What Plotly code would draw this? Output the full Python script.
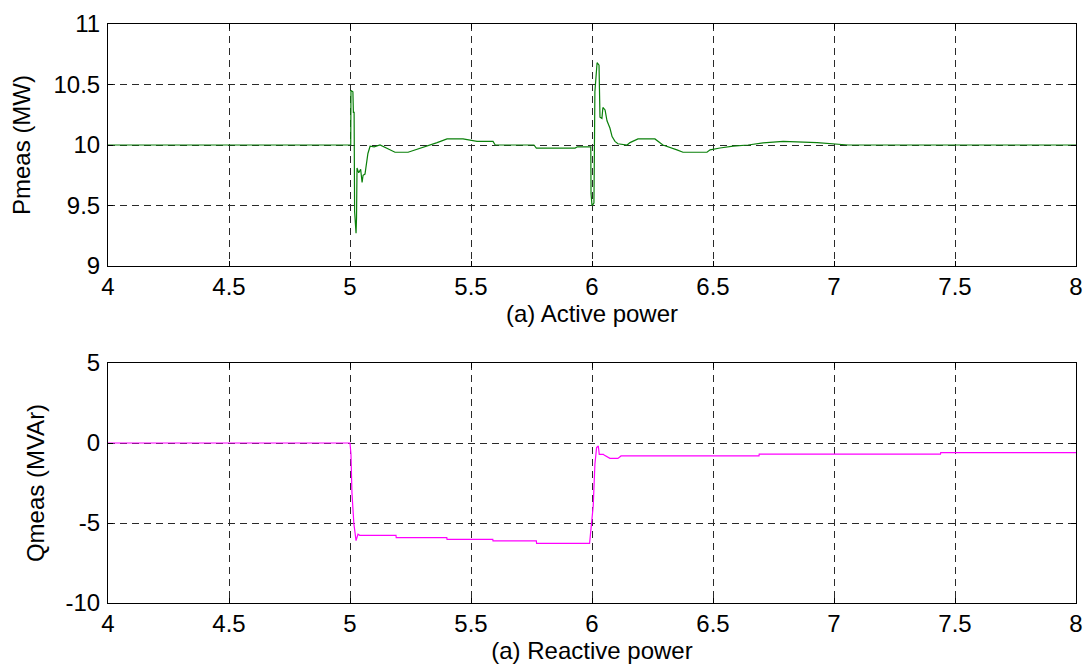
import plotly.graph_objects as go

# Active power (MW) at the measurement bus
p_time = [4.0, 5.003, 5.004, 5.012, 5.014, 5.017, 5.019, 5.022, 5.025, 5.027,
          5.029, 5.036, 5.044, 5.050, 5.054, 5.062, 5.070, 5.074, 5.083, 5.100,
          5.124, 5.186, 5.240, 5.318, 5.360, 5.401, 5.467, 5.525, 5.591, 5.600,
          5.760, 5.770, 5.930, 5.940, 5.995, 5.996, 6.000, 6.008, 6.012, 6.021,
          6.029, 6.033, 6.041, 6.045, 6.054, 6.062, 6.074, 6.083, 6.095, 6.107,
          6.145, 6.157, 6.190, 6.260, 6.293, 6.351, 6.376, 6.475, 6.488, 6.529,
          6.583, 6.645, 6.707, 6.790, 6.930, 7.058, 8.0]
p_meas = [10.0, 10.0, 10.45, 10.44, 10.27, 10.27, 9.45, 9.38, 9.27, 9.40,
          9.81, 9.77, 9.80, 9.69, 9.75, 9.76, 9.88, 9.93, 9.99, 9.985,
          10.0, 9.94, 9.94, 9.99, 10.02, 10.05, 10.05, 10.03, 10.03, 10.0,
          10.0, 9.975, 9.975, 9.985, 9.985, 9.60, 9.50, 9.52, 10.44, 10.68,
          10.66, 10.23, 10.22, 10.31, 10.29, 10.20, 10.14, 10.07, 10.03, 10.01,
          10.0, 10.02, 10.05, 10.05, 10.0, 9.96, 9.94, 9.94, 9.96, 9.975,
          9.99, 10.0, 10.017, 10.03, 10.02, 10.0, 10.0]

# Reactive power (MVAr) at the measurement bus
q_time = [4.0, 5.0, 5.004, 5.008, 5.016, 5.025, 5.033, 5.040, 5.190, 5.191,
          5.400, 5.401, 5.590, 5.591, 5.770, 5.771, 5.990, 6.005, 6.012, 6.019,
          6.026, 6.030, 6.047, 6.050, 6.074, 6.107, 6.120, 6.690, 6.691, 7.440,
          7.441, 8.0]
q_meas = [0.0, 0.0, -0.7, -3.1, -5.05, -6.1, -5.7, -5.77, -5.77, -5.92,
          -5.92, -6.02, -6.02, -6.12, -6.12, -6.27, -6.27, -3.94, -1.33, -0.29,
          -0.19, -0.71, -0.71, -0.75, -0.96, -0.96, -0.81, -0.81, -0.70, -0.70,
          -0.60, -0.60]

x_ticks = [4, 4.5, 5, 5.5, 6, 6.5, 7, 7.5, 8]
p_ticks = [9, 9.5, 10, 10.5, 11]
q_ticks = [-10, -5, 0, 5]

FONT = "Arial, Liberation Sans, sans-serif"
FS = 24
W, H = 1091, 668

fig = go.Figure()
fig.add_trace(go.Scatter(x=p_time, y=p_meas, mode="lines",
                         line=dict(color="#0a800a", width=1.2),
                         xaxis="x", yaxis="y", showlegend=False))
fig.add_trace(go.Scatter(x=q_time, y=q_meas, mode="lines",
                         line=dict(color="#ff00ff", width=1.2),
                         xaxis="x2", yaxis="y2", showlegend=False))

common_axis = dict(
    showline=True, linecolor="black", linewidth=1, mirror="ticks",
    ticks="inside", ticklen=5, tickcolor="black",
    showgrid=True, gridcolor="#2a2a2a", gridwidth=1, griddash="7px,5px",
    zeroline=False, automargin=False,
    tickfont=dict(family=FONT, size=FS, color="black"),
)

x_dom = [108 / W, 1076 / W]
top_dom = [(H - 266) / H, (H - 24) / H]
bot_dom = [(H - 603) / H, (H - 363) / H]

fig.update_layout(
    width=W, height=H,
    margin=dict(l=0, r=0, t=0, b=0, autoexpand=False),
    paper_bgcolor="white", plot_bgcolor="white",
    font=dict(family=FONT, size=FS, color="black"),
    xaxis=dict(domain=x_dom, anchor="y", range=[4, 8], tickvals=x_ticks,
               ticktext=[f"{v:g}" for v in x_ticks], ticklabelstandoff=-1,
               title=dict(text="(a) Active power", standoff=4,
                          font=dict(family=FONT, size=FS)),
               **common_axis),
    yaxis=dict(domain=top_dom, anchor="x", range=[9, 11], tickvals=p_ticks,
               ticktext=[f"{v:g}" for v in p_ticks], ticklabelstandoff=2,
               title=dict(text="Pmeas (MW)", standoff=16,
                          font=dict(family=FONT, size=FS)),
               **common_axis),
    xaxis2=dict(domain=x_dom, anchor="y2", range=[4, 8], tickvals=x_ticks,
                ticktext=[f"{v:g}" for v in x_ticks], ticklabelstandoff=-1,
                title=dict(text="(a) Reactive power", standoff=0,
                           font=dict(family=FONT, size=FS)),
                **common_axis),
    yaxis2=dict(domain=bot_dom, anchor="x2", range=[-10, 5], tickvals=q_ticks,
                ticktext=[f"{v:g}" for v in q_ticks], ticklabelstandoff=2,
                title=dict(text="Qmeas (MVAr)", standoff=14,
                           font=dict(family=FONT, size=FS)),
                **common_axis),
)

fig.write_html("out.html")
